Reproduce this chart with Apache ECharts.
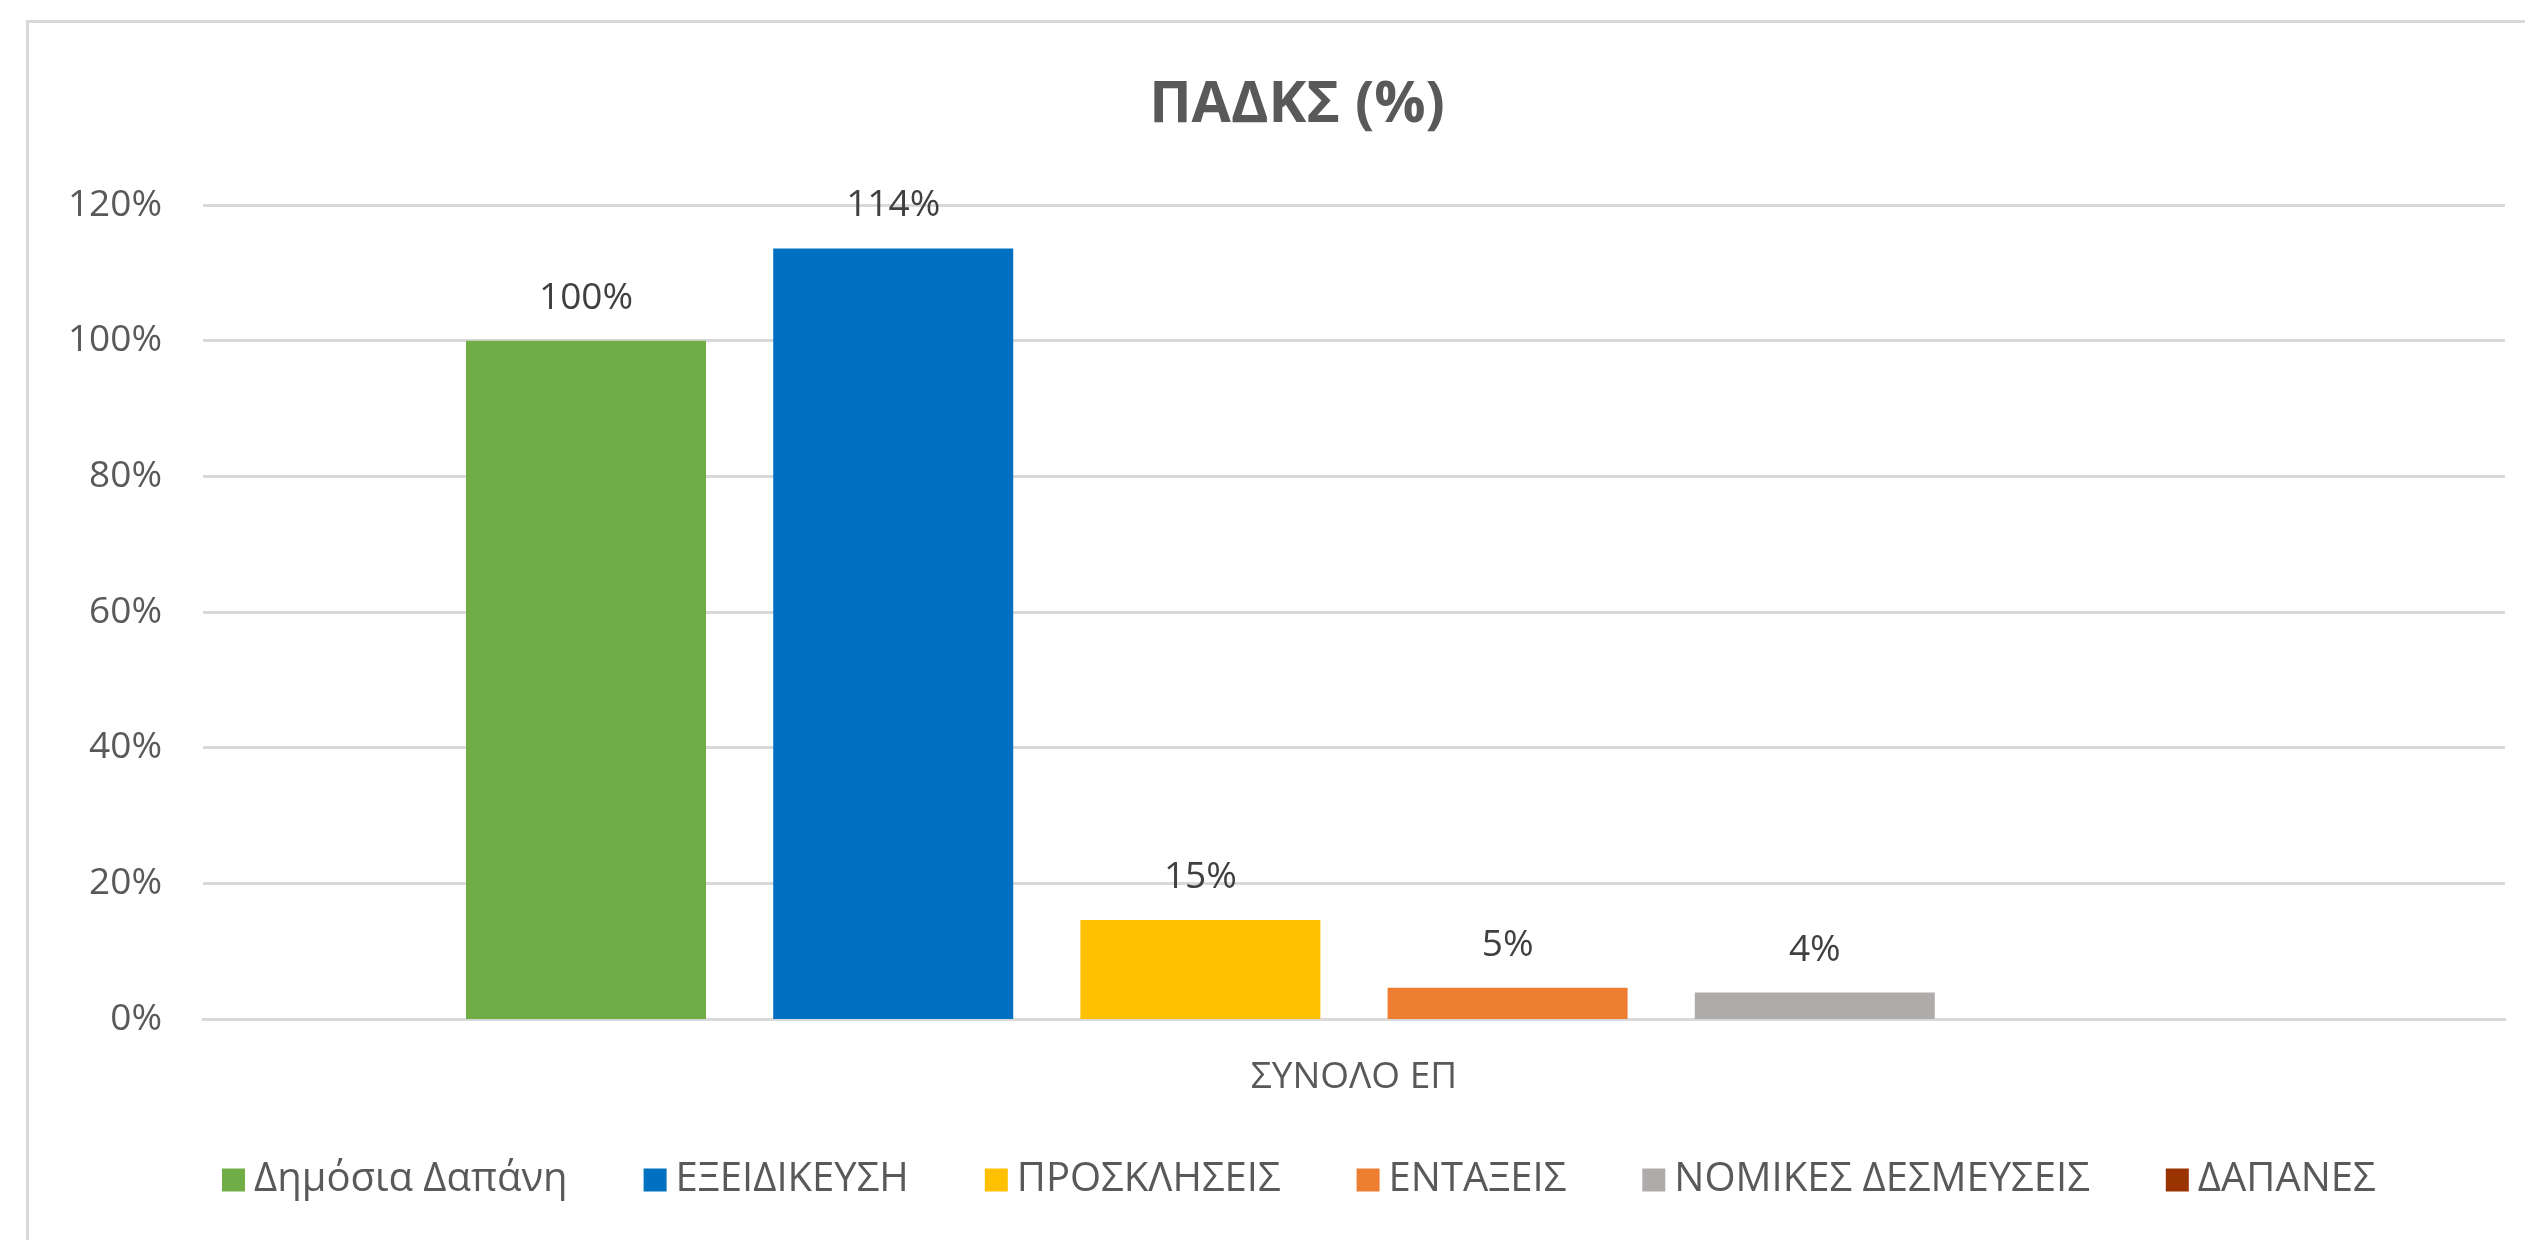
<!DOCTYPE html>
<html>
<head>
<meta charset="utf-8">
<script src="https://cdn.jsdelivr.net/npm/echarts@6/dist/echarts.min.js"></script>
<style>
  html, body { margin: 0; padding: 0; background: #ffffff; }
  #frame { position: absolute; left: 26px; top: 20px; width: 2600px; height: 1300px; border: 3px solid #d9d9d9; box-sizing: border-box; }
  #chart { position: absolute; left: 0; top: 0; width: 2525px; height: 1240px; }
</style>
</head>
<body>
<div id="frame"></div>
<div id="chart"></div>
<script>
const titleText = 'ΠΑΔΚΣ (%)';
const categories = ['ΣΥΝΟΛΟ ΕΠ'];
const seriesNames = ['Δημόσια Δαπάνη', 'ΕΞΕΙΔΙΚΕΥΣΗ', 'ΠΡΟΣΚΛΗΣΕΙΣ', 'ΕΝΤΑΞΕΙΣ', 'ΝΟΜΙΚΕΣ ΔΕΣΜΕΥΣΕΙΣ', 'ΔΑΠΑΝΕΣ'];
const seriesValues = [100, 113.6, 14.6, 4.6, 3.9, 0];
const seriesColors = ['#70ad47', '#0070c0', '#ffc000', '#ed7d31', '#afabab', '#993300'];
const yTicks = [0, 20, 40, 60, 80, 100, 120];

const FONT = '"Open Sans", "Noto Sans", sans-serif';

const chart = echarts.init(document.getElementById('chart'), null, { renderer: 'canvas' });

const series = seriesNames.map((name, i) => ({
  name: name,
  type: 'bar',
  data: [seriesValues[i]],
  barWidth: 240,
  barGap: '28%',
  itemStyle: { color: seriesColors[i] },
  label: {
    show: true,
    position: 'top',
    distance: 24,
    fontFamily: FONT,
    fontSize: 37,
    color: '#404040',
    formatter: p => (p.value ? Math.round(p.value) + '%' : '')
  }
}));

chart.setOption({
  backgroundColor: 'transparent',
  animation: false,
  title: {
    text: titleText,
    left: 1292,
    textAlign: 'center',
    top: 72,
    textStyle: { fontFamily: FONT, fontSize: 57, fontWeight: 'bold', color: '#595959' }
  },
  legend: {
    data: seriesNames,
    left: 222,
    top: 1160,
    padding: 0,
    icon: 'rect',
    itemWidth: 23,
    itemHeight: 23,
    itemGap: 76,
    textStyle: { fontFamily: FONT, fontSize: 40, color: '#595959', padding: [0, 0, 0, 4] }
  },
  grid: { left: 203, right: 20, top: 205, bottom: 221, containLabel: false },
  xAxis: {
    type: 'category',
    data: categories,
    axisLine: { show: true, lineStyle: { color: '#d9d9d9', width: 3 } },
    axisTick: { show: false },
    axisLabel: { margin: 40, fontFamily: FONT, fontSize: 37, color: '#595959' }
  },
  yAxis: {
    type: 'value',
    min: yTicks[0],
    max: yTicks[yTicks.length - 1],
    interval: yTicks[1] - yTicks[0],
    axisLine: { show: false },
    axisTick: { show: false },
    splitLine: { lineStyle: { color: '#d9d9d9', width: 3 } },
    axisLabel: { margin: 41, fontFamily: FONT, fontSize: 37, color: '#595959', formatter: '{value}%' }
  },
  series: series
});
</script>
</body>
</html>
